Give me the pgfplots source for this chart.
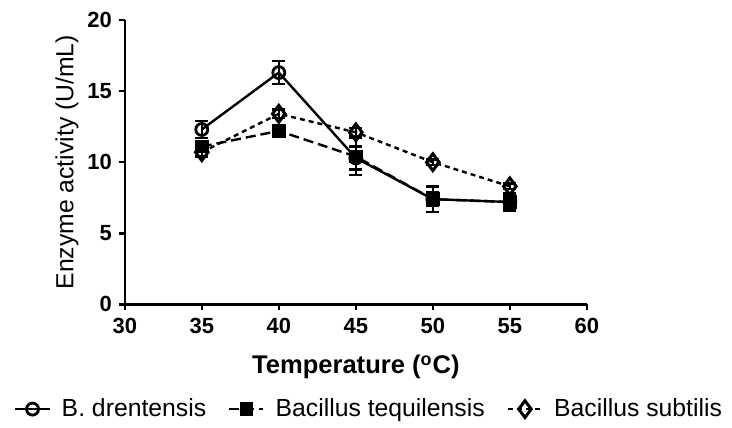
\documentclass[border=0pt]{standalone}
\usepackage{pgfplots}
\pgfplotsset{compat=1.18}
\usepackage{fontspec}
\setmainfont{Liberation Sans}

% mean and sd
\begin{document}
\begin{tikzpicture}
\begin{axis}[
  at={(0,0)}, anchor=origin,
  width=231.5pt, height=142.5pt, scale only axis,
  xmin=30, xmax=60, ymin=0, ymax=20,
  xtick={30,35,...,60}, ytick={0,5,...,20},
  axis x line*=bottom, axis y line*=left,
  axis line style={line width=1.2pt,-},
  tick style={line width=1.2pt,black},
  tick align=outside, major tick length=3pt,
  /pgf/number format/assume math mode=true,
  ticklabel style={font=\fontsize{11}{12}\selectfont\bfseries},
  xticklabel style={yshift=-0.5pt},
  xlabel={\textbf{Temperature (\textsuperscript{o}C)}},
  ylabel={Enzyme activity (U/mL)},
  xlabel style={font=\fontsize{12.8}{13}\selectfont,at={(axis description cs:0.5,-0.221)},anchor=center},
  ylabel style={font=\fontsize{12.4}{13}\selectfont,at={(axis description cs:-0.125,0.5)},anchor=center},
  legend columns=3,
  legend style={draw=none, at={(0.531,-0.368)}, anchor=center,
    font=\fontsize{12.4}{13}\selectfont,
    /tikz/every odd column/.append style={column sep=3.5pt},
    /tikz/every even column/.append style={column sep=9pt}},
  legend image post style={line width=1.2pt},
  every axis plot/.append style={line width=1.2pt},
  error bars/error bar style={line width=1.2pt,solid},
  error bars/error mark options={rotate=90,mark size=3.2pt,line width=1.2pt,solid},
]
\addplot[black, solid, mark=o, mark size=3pt, mark options={solid,fill=white,line width=1.4pt},
  error bars/.cd, y dir=both, y explicit]
  coordinates {(35,12.3) +- (0,0.6) (40,16.3) +- (0,0.8) (45,10.3) +- (0,0.8) (50,7.4) +- (0,0.9) (55,7.2) +- (0,0.6)};
\addlegendentry{B. drentensis}
\addplot[black, dash pattern=on 5pt off 2.5pt, mark=square*, mark size=2.8pt, mark options={solid},
  error bars/.cd, y dir=both, y explicit]
  coordinates {(35,11.1) +- (0,0.4) (40,12.2) +- (0,0.3) (45,10.4) +- (0,1.3) (50,7.4) +- (0,0.5) (55,7.2) +- (0,0.5)};
\addlegendentry{Bacillus tequilensis}
\addplot[black, dash pattern=on 2.5pt off 2pt, mark=diamond, mark size=4.2pt, mark options={solid,fill=white,line width=1.5pt},
  error bars/.cd, y dir=both, y explicit]
  coordinates {(35,10.7) +- (0,0.3) (40,13.4) +- (0,0.3) (45,12.1) +- (0,0.3) (50,10.0) +- (0,0.2) (55,8.3) +- (0,0.2)};
\addlegendentry{Bacillus subtilis}
\end{axis}
\useasboundingbox (-62.5pt,-60.5pt) rectangle (303.5pt,152.5pt);
\end{tikzpicture}
\end{document}
